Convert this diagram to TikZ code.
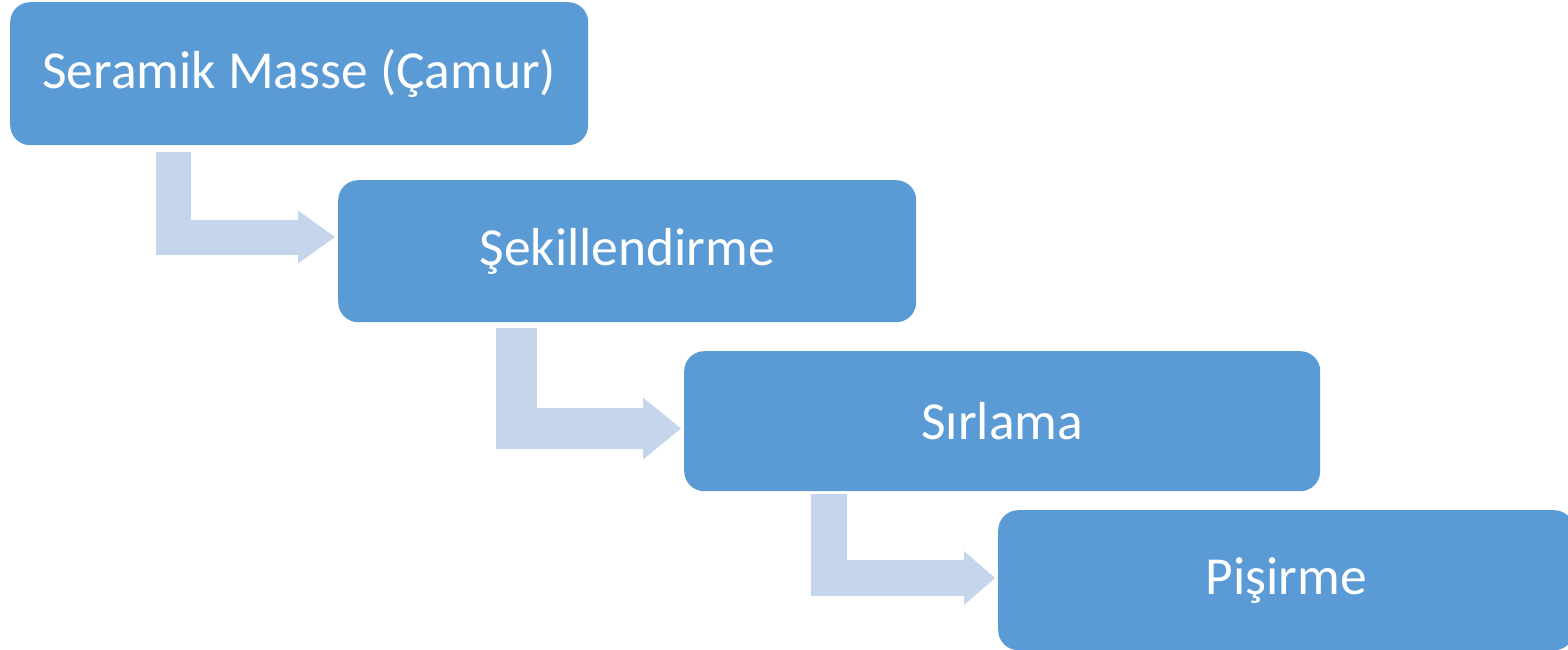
\documentclass[tikz,border=0pt]{standalone}
\usepackage{fontspec}
\setmainfont{Carlito}
\usetikzlibrary{arrows.meta,calc}
\definecolor{boxblue}{HTML}{5B9BD5}
\definecolor{arrowblue}{HTML}{C5D5EB}
\tikzset{
  stepbox/.style={fill=boxblue, draw=none, rounded corners=20pt, anchor=north west,
    text=white, font=\fontsize{53.5}{62}\selectfont, inner sep=0pt},
  bentarrow/.style={draw=arrowblue, line join=miter, line cap=butt}
}
\begin{document}
\begin{tikzpicture}[x=1pt,y=-1pt]
\useasboundingbox (0,0) rectangle (1568,650);
\node[stepbox, minimum width=578pt, minimum height=143pt] (a) at (10,2) {Seramik Masse (Çamur)};
\node[stepbox, minimum width=578pt, minimum height=142pt] (b) at (338,180) {Şekillendirme};
\node[stepbox, minimum width=636pt, minimum height=140pt] (c) at (684,351) {Sırlama};
\node[stepbox, minimum width=576pt, minimum height=140pt] (d) at (998,510) {Pişirme};
\draw[bentarrow, line width=35pt, -{Triangle[length=37pt,width=53pt,line width=0pt]}]
  ($(a.south west)+(163.5,7)$) |- ($(b.north west)+(-3,57)$);
\draw[bentarrow, line width=41pt, -{Triangle[length=38pt,width=62pt,line width=0pt]}]
  ($(b.south west)+(178,6)$) |- ($(c.north west)+(-3,77.5)$);
\draw[bentarrow, line width=36pt, -{Triangle[length=31pt,width=54pt,line width=0pt]}]
  ($(c.south west)+(145,3)$) |- ($(d.north west)+(-3,68)$);
\end{tikzpicture}
\end{document}
